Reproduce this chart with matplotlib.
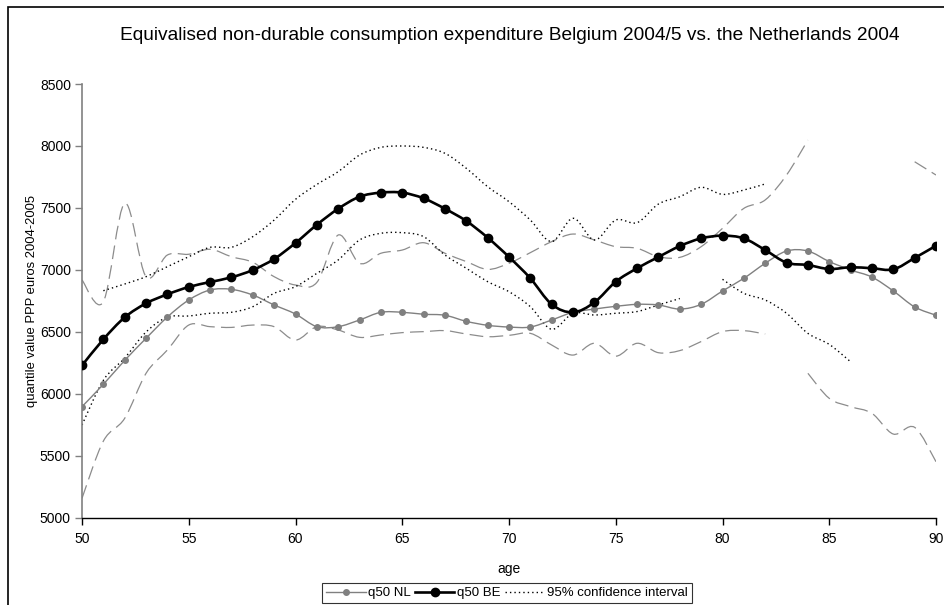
import matplotlib.pyplot as plt
import numpy as np
from matplotlib.path import Path
from matplotlib.patches import PathPatch, Rectangle
from matplotlib.lines import Line2D

plt.rcParams['font.family'] = ['Liberation Sans', 'DejaVu Sans']

nan = np.nan

ages = np.arange(50, 91)

q50_nl = [5898, 6078, 6271, 6449, 6621, 6758, 6839, 6844, 6798, 6718,
          6645, 6543, 6543, 6597, 6659, 6659, 6643, 6635, 6586, 6554,
          6540, 6540, 6597, 6659, 6685, 6707, 6723, 6718, 6685, 6723,
          6831, 6933, 7054, 7153, 7153, 7068, 7000, 6943, 6831, 6702, 6635]

q50_be = [6230, 6441, 6618, 6731, 6804, 6863, 6903, 6941, 7000, 7089,
          7218, 7365, 7494, 7591, 7624, 7624, 7578, 7494, 7395, 7261,
          7105, 6933, 6723, 6659, 6739, 6906, 7014, 7105, 7193, 7255,
          7277, 7255, 7161, 7059, 7040, 7008, 7022, 7014, 7005, 7097, 7196]

# 95% bounds for Belgium (dotted)
be_lo = [5750, 6110, 6290, 6500, 6620, 6629, 6651, 6659, 6704, 6812,
         6866, 6973, 7081, 7242, 7296, 7301, 7269, 7121, 7014, 6906,
         6825, 6704, 6522, 6651, 6637, 6651, 6665, 6718, 6770, nan,
         6925, 6812, 6758, 6651, 6489, 6400, 6260, nan, nan, nan, nan]

be_hi = [nan, 6833, 6887, 6946, 7027, 7107, 7183, 7183, 7269, 7403,
         7570, 7690, 7793, 7927, 7989, 8000, 7989, 7941, 7820, 7672,
         7551, 7403, 7229, 7417, 7242, 7403, 7382, 7532, 7591, 7667,
         7610, 7645, 7694, nan, nan, nan, nan, nan, nan, nan, nan]

# 95% bounds for the Netherlands (dashed)
nl_lo = [5159, 5620, 5804, 6167, 6355, 6556, 6543, 6537, 6556, 6543,
         6435, 6543, 6516, 6457, 6476, 6495, 6503, 6511, 6484, 6462,
         6473, 6489, 6395, 6314, 6409, 6305, 6409, 6333, 6350, 6423,
         6503, 6511, 6484, nan, 6167, 5965, 5898, 5844, 5677, 5731, 5454]

nl_hi = [6919, 6744, 7538, 6946, 7121, 7127, 7167, 7107, 7062, 6946,
         6879, 6900, 7282, 7054, 7135, 7161, 7220, 7135, 7068, 7005,
         7054, 7140, 7229, 7290, 7242, 7188, 7175, 7107, 7102, 7188,
         7336, 7497, 7565, 7766, 8048, nan, nan, nan, nan, 7873, 7766]


def smooth_path(x, y):
    """Cubic Bezier through the points, broken at missing values."""
    x = np.asarray(x, float)
    y = np.asarray(y, float)
    verts, codes = [], []
    ok = ~np.isnan(y)
    i = 0
    n = len(x)
    while i < n:
        if not ok[i]:
            i += 1
            continue
        j = i
        while j + 1 < n and ok[j + 1]:
            j += 1
        px, py = x[i:j + 1], y[i:j + 1]
        m = len(px)
        verts.append((px[0], py[0]))
        codes.append(Path.MOVETO)
        for k in range(m - 1):
            k0 = max(k - 1, 0)
            k3 = min(k + 2, m - 1)
            c1 = (px[k] + (px[k + 1] - px[k0]) / 6, py[k] + (py[k + 1] - py[k0]) / 6)
            c2 = (px[k + 1] - (px[k3] - px[k]) / 6, py[k + 1] - (py[k3] - py[k]) / 6)
            verts += [c1, c2, (px[k + 1], py[k + 1])]
            codes += [Path.CURVE4] * 3
        i = j + 1
    return Path(verts, codes)


def add_curve(ax, x, y, **kw):
    patch = PathPatch(smooth_path(x, y), fill=False, transform=ax.transData, **kw)
    ax.add_patch(patch)


fig = plt.figure(figsize=(9.44, 6.05), dpi=100)
ax = fig.add_axes([82 / 944, 1 - 518 / 605, 854 / 944, 434 / 605])

grey = '#808080'

# confidence bands
for band in (nl_lo, nl_hi):
    add_curve(ax, ages, band, edgecolor='#8c8c8c', linewidth=0.9,
              linestyle=(0, (11, 5)))
for band in (be_lo, be_hi):
    add_curve(ax, ages, band, edgecolor='black', linewidth=1.0,
              linestyle=(0, (1, 2.2)))

# medians
add_curve(ax, ages, q50_nl, edgecolor=grey, linewidth=1.0, zorder=3)
ax.plot(ages, q50_nl, 'o', color=grey, markersize=4, zorder=4)
add_curve(ax, ages, q50_be, edgecolor='black', linewidth=1.9, zorder=5)
ax.plot(ages, q50_be, 'o', color='black', markersize=6, zorder=6)

ax.set_xlim(50, 90)
ax.set_ylim(5000, 8500)
ax.set_xticks(np.arange(50, 91, 5))
ax.set_yticks(np.arange(5000, 8501, 500))
ax.tick_params(axis='both', labelsize=10, direction='out', length=5, width=1)
ax.tick_params(axis='y', color=grey, pad=3)
ax.tick_params(axis='x', pad=5)
for side in ('top', 'right'):
    ax.spines[side].set_visible(False)
ax.spines['left'].set_color(grey)
ax.spines['left'].set_linewidth(1.2)
ax.spines['bottom'].set_linewidth(1.0)

ax.set_xlabel('age', fontsize=10)
ax.xaxis.set_label_coords(0.5, -0.101)
ax.set_ylabel('quantile value PPP euros 2004-2005', fontsize=9.4)
ax.yaxis.set_label_coords(-0.051, 0.5)

fig.text(0.540, 1 - 35 / 605,
         'Equivalised non-durable consumption expenditure Belgium 2004/5 vs. the Netherlands 2004',
         ha='center', va='center', fontsize=13.8)

handles = [
    Line2D([], [], color=grey, lw=1.0, marker='o', markersize=4),
    Line2D([], [], color='black', lw=1.9, marker='o', markersize=6),
    Line2D([], [], color='black', lw=1.0, linestyle=(0, (1, 2.2))),
]
leg = fig.legend(handles, ['q50 NL', 'q50 BE', '95% confidence interval'],
                 loc='upper left', bbox_to_anchor=(322 / 944, 1 - 583 / 605),
                 ncol=3, fontsize=9.5, frameon=True, fancybox=False,
                 handlelength=3.0, handletextpad=0.2, columnspacing=0.3,
                 borderpad=0.3, borderaxespad=0)
leg.get_frame().set_edgecolor('black')
leg.get_frame().set_linewidth(0.8)

# outer chart frame
fig.patches.append(Rectangle((8 / 944, -0.2), 1.2, 1.2 - 7 / 605,
                             transform=fig.transFigure, fill=False,
                             edgecolor='black', linewidth=1.2))

fig.savefig('out.png', dpi=100)
